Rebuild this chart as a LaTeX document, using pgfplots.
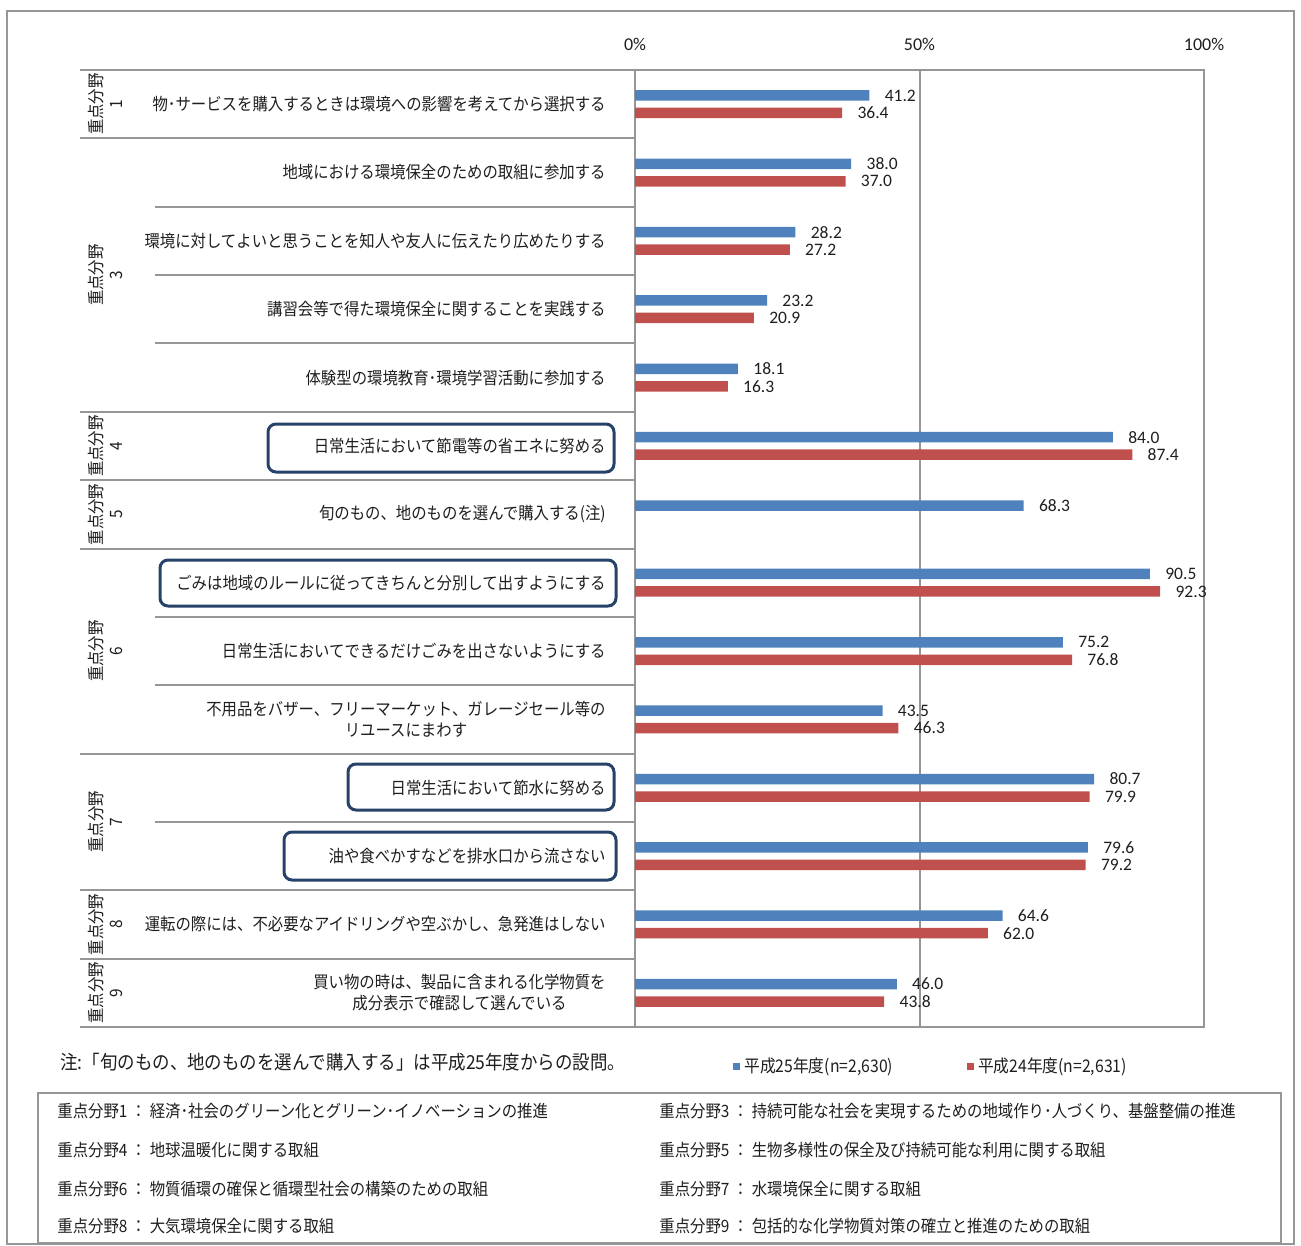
\documentclass[border=0pt]{standalone}
\usepackage{fontspec}
\setmainfont{Carlito}
\newfontfamily\jp[FakeStretch=0.905]{Noto Sans CJK JP}
\usepackage{pgfplots}
\pgfplotsset{compat=1.18}

\definecolor{barblue}{RGB}{79,129,189}
\definecolor{barred}{RGB}{192,80,77}
\definecolor{boxblue}{RGB}{38,66,104}
\definecolor{linegray}{RGB}{150,150,150}
\definecolor{txt}{RGB}{30,30,30}

\begin{document}
\begin{tikzpicture}
% picture laid out in reference pixels: 1px = 0.5pt, y downwards
\begin{scope}[x=0.5pt,y=-0.5pt]
  \path[use as bounding box] (0,0) rectangle (1301,1246);
  \draw[linegray, line width=1.2pt] (7,11) rectangle (1294,1244);
  % table rules left of the bars
  \foreach \k in {0,1,5,6,7,10,12,13,14}
    \draw[linegray, line width=1pt] (80,{70+\k*68.357}) -- (635,{70+\k*68.357});
  \foreach \k in {2,3,4,8,9,11}
    \draw[linegray, line width=1pt] (155,{70+\k*68.357}) -- (635,{70+\k*68.357});

  % group labels
  \tikzset{grp/.style={rotate=90, align=center, inner sep=0pt, text=txt,
      font=\jp\fontsize{8.5pt}{10pt}\selectfont}}
  \node[grp] at (105,104.2) {重点分野\\1};
  \node[grp] at (105,275.1) {重点分野\\3};
  \node[grp] at (105,446.0) {重点分野\\4};
  \node[grp] at (105,514.4) {重点分野\\5};
  \node[grp] at (105,651.1) {重点分野\\6};
  \node[grp] at (105,821.9) {重点分野\\7};
  \node[grp] at (105,924.5) {重点分野\\8};
  \node[grp] at (105,992.9) {重点分野\\9};

  % category labels
  \tikzset{cat/.style={anchor=east, align=center, inner sep=0pt, text=txt,
      font=\jp\fontsize{8.5pt}{10.5pt}\selectfont}}
  \node[cat] at (606,104.2) {物･サービスを購入するときは環境への影響を考えてから選択する};
  \node[cat] at (606,172.5) {地域における環境保全のための取組に参加する};
  \node[cat] at (606,240.9) {環境に対してよいと思うことを知人や友人に伝えたり広めたりする};
  \node[cat] at (606,309.3) {講習会等で得た環境保全に関することを実践する};
  \node[cat] at (606,377.6) {体験型の環境教育･環境学習活動に参加する};
  \node[cat] at (606,446.0) {日常生活において節電等の省エネに努める};
  \node[cat] at (606,514.4) {旬のもの、地のものを選んで購入する(注)};
  \node[cat] at (606,582.7) {ごみは地域のルールに従ってきちんと分別して出すようにする};
  \node[cat] at (606,651.1) {日常生活においてできるだけごみを出さないようにする};
  \node[cat] at (606,719.4) {不用品をバザー、フリーマーケット、ガレージセール等の\\リユースにまわす};
  \node[cat] at (606,787.8) {日常生活において節水に努める};
  \node[cat] at (606,856.1) {油や食べかすなどを排水口から流さない};
  \node[cat] at (606,924.5) {運転の際には、不必要なアイドリングや空ぶかし、急発進はしない};
  \node[cat] at (606,992.9) {買い物の時は、製品に含まれる化学物質を\\成分表示で確認して選んでいる};

  % highlighted items
  \tikzset{hl/.style={boxblue, line width=1.5pt, rounded corners=4pt}}
  \draw[hl] (268,424) rectangle (614,472);
  \draw[hl] (160,560) rectangle (616,606);
  \draw[hl] (348,764) rectangle (614,810);
  \draw[hl] (284,832) rectangle (616,880);

  % note
  \node[anchor=west, inner sep=0pt, text=txt, font=\jp\fontsize{9.65pt}{11pt}\selectfont]
    at (60,1062) {注:「旬のもの、地のものを選んで購入する」は平成25年度からの設問。};

  % key box
  \draw[linegray, line width=1pt] (38,1093) rectangle (1281,1243);
  \tikzset{key/.style={anchor=west, inner sep=0pt, text=txt,
      font=\jp\fontsize{8.5pt}{10pt}\selectfont}}
  \node[key] at (57,1111) {重点分野1 ： 経済･社会のグリーン化とグリーン･イノベーションの推進};
  \node[key] at (659,1111) {重点分野3 ： 持続可能な社会を実現するための地域作り･人づくり、基盤整備の推進};
  \node[key] at (57,1150) {重点分野4 ： 地球温暖化に関する取組};
  \node[key] at (659,1150) {重点分野5 ： 生物多様性の保全及び持続可能な利用に関する取組};
  \node[key] at (57,1189) {重点分野6 ： 物質循環の確保と循環型社会の構築のための取組};
  \node[key] at (659,1189) {重点分野7 ： 水環境保全に関する取組};
  \node[key] at (57,1226) {重点分野8 ： 大気環境保全に関する取組};
  \node[key] at (659,1226) {重点分野9 ： 包括的な化学物質対策の確立と推進のための取組};
\end{scope}

\begin{axis}[
  at={(317.5pt,-35pt)}, anchor=north west,
  scale only axis, width=284.5pt, height=478.5pt,
  xbar, bar width=5.25pt,
  xmin=0, xmax=100, ymin=0.5, ymax=14.5,
  ytick=\empty,
  xtick={0,50,100}, xticklabels={0\%,50\%,100\%},
  xticklabel pos=upper, major tick length=0pt,
  xticklabel style={yshift=6pt},
  xmajorgrids, grid style={linegray, line width=1pt},
  axis line style={linegray, line width=1pt},
  tick label style={font=\fontsize{9pt}{11pt}\selectfont, text=txt},
  /pgf/number format/assume math mode=true,
  nodes near coords={\pgfmathprintnumber[fixed,fixed zerofill,precision=1]{\pgfplotspointmeta}},
  nodes near coords style={font=\fontsize{8.75pt}{10pt}\selectfont, text=txt,
    anchor=west, inner sep=0pt, xshift=7.5pt},
  legend columns=2,
  legend style={at={(0.172,-0.041)}, anchor=west, draw=none, fill=none,
    inner sep=0pt, text=txt, font=\jp\fontsize{8.7pt}{10pt}\selectfont,
    /tikz/every even column/.append style={column sep=35pt},
    nodes={inner xsep=2pt}},
  legend image code/.code={\fill[#1] (0pt,-1.75pt) rectangle (3.5pt,1.75pt);},
]
\addplot[fill=barblue, draw=none, bar shift=4.375pt] coordinates {
  (41.2,14) (38.0,13) (28.2,12) (23.2,11) (18.1,10) (84.0,9) (68.3,8)
  (90.5,7) (75.2,6) (43.5,5) (80.7,4) (79.6,3) (64.6,2) (46.0,1)};
\addlegendentry{平成25年度(n=2,630)}
\addplot[fill=barred, draw=none, bar shift=-4.375pt] coordinates {
  (36.4,14) (37.0,13) (27.2,12) (20.9,11) (16.3,10) (87.4,9)
  (92.3,7) (76.8,6) (46.3,5) (79.9,4) (79.2,3) (62.0,2) (43.8,1)};
\addlegendentry{平成24年度(n=2,631)}
\end{axis}
\end{tikzpicture}
\end{document}
